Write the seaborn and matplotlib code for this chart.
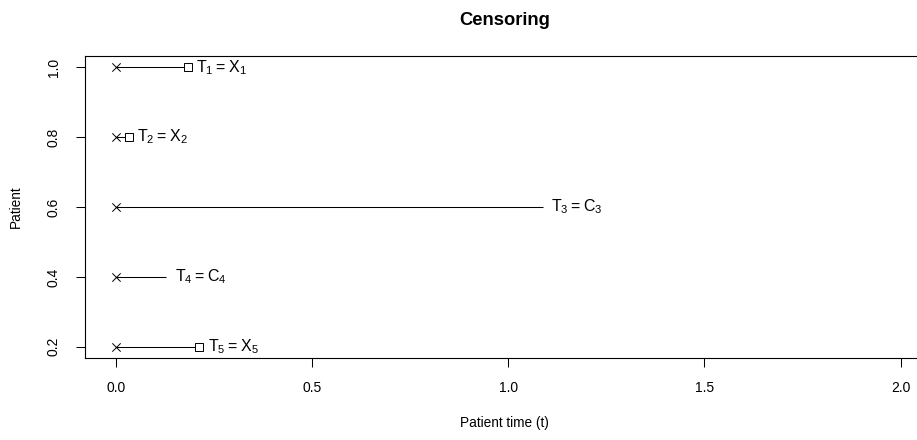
import matplotlib
matplotlib.use("Agg")
import matplotlib.pyplot as plt
import seaborn as sns
import pandas as pd

# patient positions on the y axis, follow-up time, event observed (1) or censored (0)
patient = [1.0, 0.8, 0.6, 0.4, 0.2]
start = [0.0, 0.0, 0.0, 0.0, 0.0]
time = [0.183, 0.033, 1.089, 0.129, 0.213]
event = [1, 1, 0, 0, 1]
labels = ["$T_1 = X_1$", "$T_2 = X_2$", "$T_3 = C_3$", "$T_4 = C_4$", "$T_5 = X_5$"]

df = pd.DataFrame({"patient": patient, "start": start, "time": time, "event": event})

sns.set_style("ticks")
plt.rcParams["font.family"] = ["Liberation Sans", "DejaVu Sans"]
plt.rcParams["mathtext.default"] = "regular"
plt.rcParams["text.color"] = "black"
plt.rcParams["axes.labelcolor"] = "black"
plt.rcParams["xtick.color"] = "black"
plt.rcParams["ytick.color"] = "black"

fig = plt.figure(figsize=(9.17, 4.4), dpi=100)
ax = fig.add_axes([0.0927, 0.1864, 0.915, 0.6863])

ax.hlines(df["patient"], df["start"], df["time"], color="black", linewidth=0.75)
sns.scatterplot(data=df, x="start", y="patient", marker="x", color="black",
                s=36, linewidth=0.7, ax=ax, zorder=3)
sns.scatterplot(data=df[df["event"] == 1], x="time", y="patient", marker="s",
                facecolor="white", edgecolor="black", s=32, linewidth=0.7, ax=ax, zorder=3)

for t, p, lab in zip(time, patient, labels):
    ax.annotate(lab, (t, p), xytext=(6, 0), textcoords="offset points",
                ha="left", va="center", fontsize=11.5)

ax.set_xlim(-0.0787, 2.06)
ax.set_ylim(0.168, 1.032)
ax.set_xticks([0.0, 0.5, 1.0, 1.5, 2.0])
ax.set_yticks([0.2, 0.4, 0.6, 0.8, 1.0])
ax.set_yticklabels(["0.2", "0.4", "0.6", "0.8", "1.0"], rotation=90, va="center")
ax.tick_params(axis="both", length=6.5, width=0.75, colors="black", labelsize=10)
ax.tick_params(axis="x", pad=10)
ax.tick_params(axis="y", pad=11)

for s in ax.spines.values():
    s.set_linewidth(0.8)
    s.set_color("black")

ax.set_xlabel("Patient time (t)", fontsize=9.8, labelpad=15, color="black")
ax.set_ylabel("Patient", fontsize=9.8, labelpad=17, color="black")
ax.set_title("Censoring", fontsize=13.2, fontweight="bold", pad=22, color="black")

fig.savefig("out.png", dpi=100)
